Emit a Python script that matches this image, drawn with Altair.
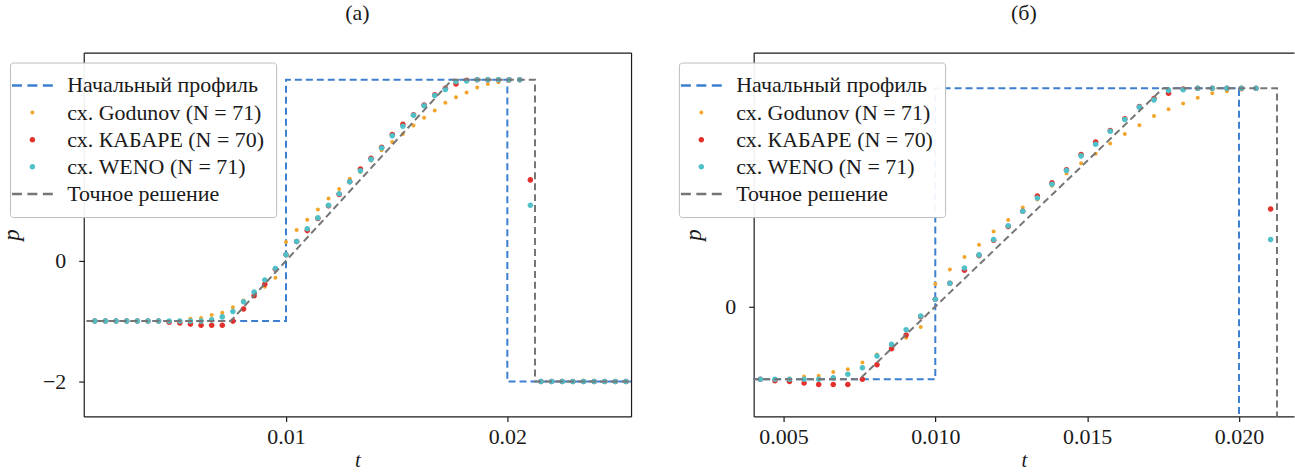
import altair as alt
import pandas as pd

# ---- data -------------------------------------------------------------
# cell centres (t) shared by the three schemes
t_grid = [
    0.00136, 0.00184, 0.00232, 0.00280, 0.00328, 0.00376, 0.00424, 0.00472,
    0.00520, 0.00568, 0.00616, 0.00664, 0.00712, 0.00760, 0.00808, 0.00856,
    0.00904, 0.00952, 0.01000, 0.01048, 0.01096, 0.01144, 0.01192, 0.01240,
    0.01288, 0.01336, 0.01384, 0.01432, 0.01480, 0.01528, 0.01576, 0.01624,
    0.01672, 0.01720, 0.01768, 0.01816, 0.01864, 0.01912, 0.01960, 0.02008,
    0.02056, 0.02104, 0.02152, 0.02200, 0.02248, 0.02296, 0.02344, 0.02392,
    0.02440, 0.02488, 0.02536,
]

p_godunov = [
    -1.00, -1.00, -1.00, -1.00, -1.00, -1.00, -1.00, -1.00,
    -0.99, -0.96, -0.95, -0.90, -0.86, -0.77, -0.66, -0.55,
    -0.43, -0.28, 0.31, 0.51, 0.68, 0.85, 1.03, 1.19,
    1.36, 1.47, 1.66, 1.83, 1.97, 2.10, 2.24, 2.37,
    2.49, 2.62, 2.71, 2.79, 2.87, 2.93, 2.96, 2.98,
    2.99, 1.34, -2.00, -2.00, -2.00, -2.00, -2.00, -2.00,
    -2.00, -2.00, -2.00,
]

p_kabare = [
    -1.00, -1.00, -1.00, -1.00, -1.00, -1.00, -1.00, -1.02,
    -1.03, -1.05, -1.07, -1.07, -1.07, -1.00, -0.80, -0.58,
    -0.39, -0.14, 0.10, 0.32, 0.50, 0.70, 0.91, 1.10,
    1.31, 1.52, 1.70, 1.88, 2.09, 2.26, 2.42, 2.58,
    2.75, 2.86, 2.93, 2.99, 3.00, 3.00, 3.00, 3.00,
    3.00, 1.34, -2.00, -2.00, -2.00, -2.00, -2.00, -2.00,
    -2.00, -2.00, -2.00,
]

p_weno = [
    -1.00, -1.00, -1.00, -1.00, -1.00, -1.00, -1.00, -1.00,
    -1.00, -1.00, -1.00, -0.98, -0.93, -0.84, -0.68, -0.52,
    -0.32, -0.13, 0.10, 0.32, 0.53, 0.71, 0.92, 1.11,
    1.31, 1.49, 1.68, 1.87, 2.07, 2.23, 2.41, 2.57,
    2.74, 2.84, 2.97, 2.98, 3.00, 3.00, 3.00, 3.00,
    3.00, 0.92, -2.00, -2.00, -2.00, -2.00, -2.00, -2.00,
    -2.00, -2.00, -2.00,
]

# initial profile and exact solution (polylines, drawn in order)
init_t = [0.000, 0.010, 0.010, 0.020, 0.020, 0.030]
init_p = [-1, -1, 3, 3, -2, -2]
exact_t = [0.000, 0.0075, 0.0175, 0.02125, 0.02125, 0.030]
exact_p = [-1, -1, 3, 3, -2, -2]

labels = [
    "Начальный профиль",
    "сх. Godunov (N = 71)",
    "сх. КАБАРЕ (N = 70)",
    "сх. WENO (N = 71)",
    "Точное решение",
]

# ---- styling ----------------------------------------------------------
SERIF = "Liberation Serif"
INK = "#1a1a1a"
BLUE = "#3c7fd0"
ORANGE = "#f2a52a"
RED = "#e3302b"
CYAN = "#4fbfc8"
GRAY = "#767676"
colors = [BLUE, ORANGE, RED, CYAN, GRAY]


def dot(r):
    return f"M{r},0A{r},{r} 0 1,1 -{r},0A{r},{r} 0 1,1 {r},0Z"


# three short dashes, used as the legend symbol of the two dashed lines
DASHES = (
    "M-2.05,-0.13H-1.05V0.13H-2.05Z"
    "M-0.5,-0.13H0.5V0.13H-0.5Z"
    "M1.05,-0.13H2.05V0.13H1.05Z"
)
shapes = [DASHES, dot(0.2), dot(0.28), dot(0.28), DASHES]
SYM = 400  # symbol box 20x20 px; paths above are in unit coords

pts = pd.concat(
    [
        pd.DataFrame({"t": t_grid, "p": p_godunov, "series": labels[1]}),
        pd.DataFrame({"t": t_grid, "p": p_kabare, "series": labels[2]}),
        pd.DataFrame({"t": t_grid, "p": p_weno, "series": labels[3]}),
    ],
    ignore_index=True,
)
init_df = pd.DataFrame({"t": init_t, "p": init_p, "i": range(len(init_t))})
exact_df = pd.DataFrame({"t": exact_t, "p": exact_p, "i": range(len(exact_t))})


def panel(title, xdom, xticks, xfmt, ydom, yticks, width, right_frame, legend_x):
    xs = alt.Scale(domain=xdom, nice=False, zero=False)
    ys = alt.Scale(domain=ydom, nice=False, zero=False)
    leg = alt.Legend(
        orient="none", legendX=legend_x, legendY=10, title=None,
        padding=12, fillColor="rgba(255,255,255,0.93)", strokeColor="#bdbdbd",
        cornerRadius=3, labelFont=SERIF, labelFontSize=22, labelColor=INK,
        labelLimit=400, symbolSize=SYM, symbolStrokeWidth=0, rowPadding=5.2,
        symbolOffset=-0.5, labelOffset=24,
    )
    init = alt.Chart(init_df).mark_line(
        color=BLUE, strokeDash=[7, 4], strokeWidth=2, clip=True
    ).encode(
        x=alt.X("t:Q", scale=xs, axis=alt.Axis(values=xticks, format=xfmt, title="t")),
        y=alt.Y("p:Q", scale=ys, axis=alt.Axis(values=yticks, title="p")),
        order="i:Q",
    )
    dots = alt.Chart(pts).mark_point(
        filled=True, size=SYM, strokeWidth=0, opacity=1, clip=True
    ).encode(
        x=alt.X("t:Q", axis=None),
        y=alt.Y("p:Q", axis=None),
        color=alt.Color("series:N", scale=alt.Scale(domain=labels, range=colors), legend=leg),
        shape=alt.Shape("series:N", scale=alt.Scale(domain=labels, range=shapes), legend=leg),
    )
    frame_x = alt.Axis(orient="top", labels=False, ticks=False, title=None)
    frame_y = alt.Axis(orient="right", labels=False, ticks=False, title=None)
    exact = alt.Chart(exact_df).mark_line(
        color=GRAY, strokeDash=[7, 4], strokeWidth=2, clip=True
    ).encode(
        x=alt.X("t:Q", axis=frame_x),
        y=alt.Y("p:Q", axis=frame_y if right_frame else None),
        order="i:Q",
    )
    return (
        alt.layer(init, dots, exact)
        .resolve_axis(x="independent", y="independent")
        .properties(
            width=width,
            height=365,
            title=alt.TitleParams(
                text=title, font=SERIF, fontSize=22, fontWeight="normal",
                color=INK, anchor="middle", offset=6, baseline="bottom",
            ),
        )
    )


left = panel("(а)", [0.00086, 0.02559], [0.01, 0.02], ".2f",
             [-2.58, 3.45], [-2, 0], 549, True, -74)
right = panel("(б)", [0.00402, 0.02181], [0.005, 0.010, 0.015, 0.020], ".3f",
              [-1.51, 3.49], [0], 542, False, -75)

chart = (
    alt.hconcat(left, right, spacing=123, bounds="flush")
    .resolve_scale(x="independent", y="independent", color="independent", shape="independent")
    .resolve_legend(color="independent", shape="independent")
    .properties(padding={"left": 0, "top": 0, "right": 0, "bottom": 4})
    .configure_view(stroke="transparent")
    .configure_axis(
        grid=False, domainColor=INK, domainWidth=1.2, tickColor=INK, tickWidth=1.2,
        tickSize=5, labelFont=SERIF, labelFontSize=22, labelColor=INK,
        titleFont=SERIF, titleFontSize=23, titleFontStyle="italic",
        titleFontWeight="normal", titleColor=INK,
    )
    .configure_axisX(labelPadding=5, titlePadding=2, titleFontSize=21)
    .configure_axisY(labelPadding=13, titlePadding=19)
)

chart.save("out.html", embed_options={"renderer": "svg", "actions": False})
